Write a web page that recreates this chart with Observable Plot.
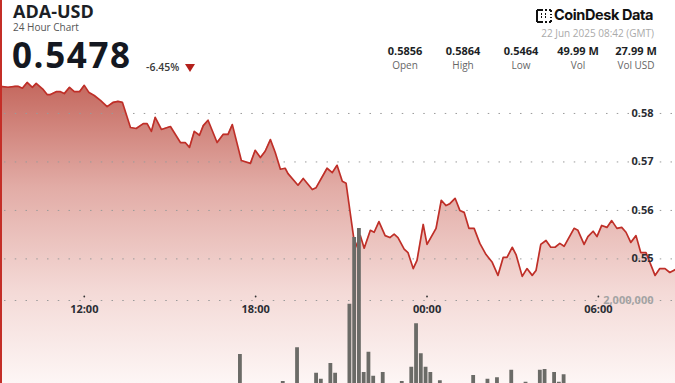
<!DOCTYPE html>
<html><head><meta charset="utf-8">
<script src="https://cdn.jsdelivr.net/npm/d3@7"></script>
<script src="https://cdn.jsdelivr.net/npm/@observablehq/plot@0.6"></script>
<style>
html,body{margin:0;padding:0;background:#fff;overflow:hidden;}
#wrap{position:relative;width:675px;height:383px;overflow:hidden;font-family:"Open Sans",sans-serif;}
#wrap > svg{position:absolute;left:0;top:0;}
.h{position:absolute;white-space:nowrap;line-height:1;}
.st{position:absolute;width:70px;text-align:center;line-height:1;white-space:nowrap;}
.sv{font-weight:700;font-size:11px;color:#1c1f26;}
.sl{font-size:10px;color:#666;}
</style></head><body><div id="wrap"></div>
<script>
// ---- data ----
const symbol = "ADA-USD";
const lastPrice = "0.5478";
const change = "-6.45%";
const stamp = "22 Jun 2025 08:42 (GMT)";
const statValues = ["0.5856", "0.5864", "0.5464", "49.99 M", "27.99 M"];
const statLabels = ["Open", "High", "Low", "Vol", "Vol USD"];

const priceTimes = ["09:04","09:20","09:35","09:41","09:50","10:00","10:11","10:19","10:34","10:42","10:49","11:01","11:10","11:18","11:29","11:39","11:50","12:00","12:10","12:21","12:34","12:48","13:01","13:11","13:20","13:37","13:49","14:04","14:12","14:21","14:29","14:42","15:01","15:22","15:32","15:41","15:51","16:02","16:10","16:20","16:39","16:52","17:02","17:11","17:30","17:49","17:59","18:10","18:20","18:31","18:41","18:52","19:02","19:08","19:29","19:40","19:59","20:07","20:30","20:41","20:51","21:02","21:10","21:29","21:40","21:48","22:01","22:09","22:19","22:32","22:42","22:51","22:59","23:12","23:20","23:31","23:39","23:52","00:00","00:19","00:30","00:40","00:48","00:59","01:09","01:18","01:28","01:39","01:51","02:04","02:17","02:29","02:40","02:48","02:59","03:07","03:20","03:30","03:41","03:49","03:59","04:10","04:20","04:29","04:39","04:48","05:09","05:17","05:30","05:38","05:49","05:57","06:07","06:18","06:28","06:39","06:49","06:58","07:08","07:19","07:29","07:40","07:59","08:09","08:20","08:30","08:42"];
const priceValues = [0.5856,0.5854,0.5856,0.5856,0.5852,0.5864,0.5854,0.5862,0.5849,0.5839,0.5839,0.5845,0.5845,0.5841,0.5854,0.5845,0.5845,0.5858,0.5843,0.5837,0.5827,0.5814,0.5823,0.5825,0.5823,0.5771,0.5769,0.5779,0.5779,0.5763,0.5792,0.5767,0.5773,0.5740,0.5740,0.5730,0.5763,0.5755,0.5775,0.5786,0.5740,0.5757,0.5757,0.5777,0.5703,0.5697,0.5724,0.5709,0.5722,0.5746,0.5720,0.5685,0.5687,0.5676,0.5652,0.5666,0.5643,0.5647,0.5687,0.5678,0.5693,0.5660,0.5656,0.5522,0.5548,0.5522,0.5559,0.5555,0.5577,0.5548,0.5544,0.5551,0.5544,0.5520,0.5513,0.5480,0.5497,0.5571,0.5530,0.5563,0.5621,0.5610,0.5614,0.5625,0.5600,0.5596,0.5563,0.5563,0.5532,0.5509,0.5493,0.5466,0.5503,0.5503,0.5524,0.5509,0.5464,0.5480,0.5466,0.5476,0.5530,0.5538,0.5524,0.5524,0.5532,0.5526,0.5563,0.5559,0.5530,0.5546,0.5557,0.5546,0.5569,0.5565,0.5579,0.5563,0.5565,0.5555,0.5534,0.5548,0.5513,0.5513,0.5466,0.5480,0.5480,0.5472,0.5478];

const volTimes = ["17:30","19:00","19:30","20:10","20:20","20:40","20:50","21:20","21:30","21:40","21:50","22:00","22:10","22:30","23:10","23:30","23:40","23:50","00:00","00:10","00:30","01:40","02:10","02:30","03:00","03:30","04:00","04:10","04:30","04:40","04:50"];
const volValues = [1280000,920000,1370000,1030000,950000,1160000,1030000,1950000,2840000,2960000,1040000,1310000,990000,1040000,920000,1110000,1690000,1290000,1110000,1040000,930000,1000000,950000,970000,1070000,910000,1070000,1080000,1040000,910000,1010000];

const xTickTimes = ["12:00","18:00","00:00","06:00"];
const yTicks = [0.55, 0.56, 0.57, 0.58];
const volTicks = [2000000];
const windowStart = "09:04", windowEnd = "08:42";

// times before 09:00 belong to 22 Jun, the rest to 21 Jun (GMT)
function toDate(hm) {
  const [h, m] = hm.split(":").map(Number);
  return new Date(Date.UTC(2025, 5, h < 9 ? 22 : 21, h, m));
}
const price = priceTimes.map((t, i) => ({t: toDate(t), p: priceValues[i]}));
const vol = volTimes.map((t, i) => ({t: toDate(t), v: volValues[i]}));
const xTicks = xTickTimes.map(toDate);
const xDomain = [toDate(windowStart), toDate(windowEnd)];
const fmtT = d3.utcFormat("%H:%M");
const W = 675, H = 383;
const yDomain = [0.5243, 0.6033];

const gradient = () => {
  const defs = d3.create("svg:defs");
  const g = defs.append("linearGradient").attr("id", "areaGrad")
    .attr("x1", 0).attr("x2", 0).attr("y1", 0).attr("y2", 1);
  [[0, "#c4675d"], [0.35, "#e2aca6"], [0.7, "#f4dad7"], [1, "#fdf6f5"]]
    .forEach(([o, c]) => g.append("stop").attr("offset", o).attr("stop-color", c));
  return defs.node();
};

const pricePlot = Plot.plot({
  width: W, height: H, margin: 0,
  style: {fontFamily: "Open Sans", background: "transparent"},
  x: {type: "utc", domain: xDomain, axis: null},
  y: {domain: yDomain, axis: null},
  marks: [
    gradient,
    Plot.areaY(price, {x: "t", y1: yDomain[0], y2: "p", fill: "url(#areaGrad)"}),
    Plot.ruleY(yTicks, {stroke: "#9a9a9a", strokeWidth: 1, strokeDasharray: "1.5,9.25", strokeDashoffset: -4}),
    Plot.lineY(price, {x: "t", y: "p", stroke: "#bf2f28", strokeWidth: 1.7}),
    Plot.text(yTicks, {y: d => d, text: d => d.toFixed(2), frameAnchor: "right", dx: -22, textAnchor: "end",
      fontSize: 11, fontWeight: 700, fill: "#2a2d33"}),
    Plot.dot(xTicks, {x: d => d, frameAnchor: "bottom", dy: -87, r: 0.9, fill: "#333"}),
    Plot.text(xTicks, {x: d => d, text: d => fmtT(d), frameAnchor: "bottom", dy: -71,
      fontSize: 11, fontWeight: 700, fill: "#2a2d33"})
  ]
});

const volPlot = Plot.plot({
  width: W, height: H, margin: 0,
  style: {fontFamily: "Open Sans", background: "transparent"},
  x: {type: "utc", domain: xDomain, axis: null},
  y: {domain: [0, 2000000], range: [450, 300], axis: null},
  marks: [
    Plot.ruleY(volTicks, {stroke: "#9a9a9a", strokeWidth: 1, strokeDasharray: "1.5,9.25", strokeDashoffset: -4}),
    Plot.rectY(vol, {x1: d => new Date(+d.t - 6 * 60000), x2: d => new Date(+d.t + 2 * 60000), y1: 0, y2: "v", fill: "#6b6b67"}),
    Plot.text(volTicks, {y: d => d, text: d => d3.format(",")(d), frameAnchor: "right", dx: -22, textAnchor: "end",
      fontSize: 11, fontWeight: 700, fill: "#a3a3a3"})
  ]
});

const wrap = document.getElementById("wrap");
wrap.appendChild(pricePlot);
wrap.appendChild(volPlot);

function add(html, css) {
  const d = document.createElement("div");
  d.className = "h";
  d.innerHTML = html;
  Object.assign(d.style, css);
  wrap.appendChild(d);
  return d;
}
add(symbol, {left: "13px", top: "2px", fontSize: "18px", fontWeight: "700", color: "#1c1f26"});
add("24 Hour Chart", {left: "13px", top: "22px", fontSize: "10px", color: "#555"});
add(lastPrice, {left: "12px", top: "37px", fontSize: "35px", fontWeight: "700", color: "#141821", letterSpacing: "1.6px"});
add(change, {left: "146px", top: "62px", fontSize: "10.5px", fontWeight: "600", color: "#3a3a3a"});
add("", {left: "185px", top: "64px", width: "0", height: "0", borderLeft: "5px solid transparent",
  borderRight: "5px solid transparent", borderTop: "8px solid #b3201b"});
// logo
add('<svg width="16" height="14" viewBox="0 0 16 14"><path d="M1 1h6M1 1v12M1 13h6M9 1h2M13 1h2M15 1v2M15 5v1M15 8v1M15 11v2M13 13h2M9 13h2M5 5h1M5 8h1M9 5h1M9 8h1" stroke="#111" stroke-width="2" fill="none"/></svg>',
  {left: "536px", top: "9px"});
add("CoinDesk<span style='margin-left:3px'>Data</span>", {left: "554px", top: "8px", fontSize: "14.5px", fontWeight: "700",
  fontFamily: "Inter", color: "#111", letterSpacing: "-0.4px"});
add(stamp, {right: "21px", top: "28px", fontSize: "10px", color: "#aaa"});
const centers = [405, 463, 521, 578, 636];
statValues.forEach((v, i) => {
  const a = document.createElement("div");
  a.className = "st sv"; a.textContent = v;
  a.style.left = (centers[i] - 35) + "px"; a.style.top = "45px";
  wrap.appendChild(a);
  const b = document.createElement("div");
  b.className = "st sl"; b.textContent = statLabels[i];
  b.style.left = (centers[i] - 35) + "px"; b.style.top = "60px";
  wrap.appendChild(b);
});
add("", {left: "0", top: "0", width: "2px", height: "383px", background: "#c42e27"});
</script></body></html>
